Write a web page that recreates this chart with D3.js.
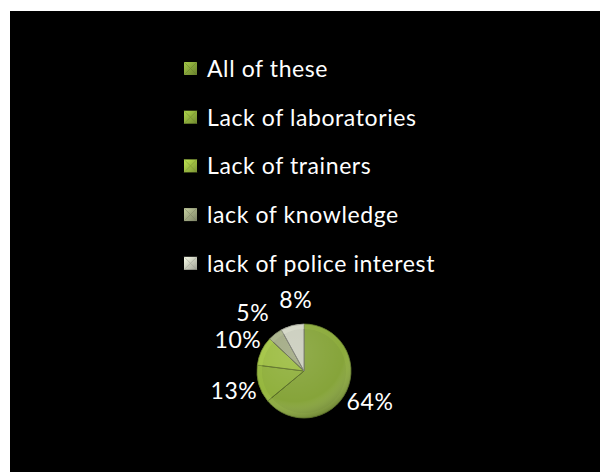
<!DOCTYPE html>
<html>
<head>
<meta charset="utf-8">
<script src="https://cdn.jsdelivr.net/npm/d3@7"></script>
<style>
  body { margin: 0; background: #fff; }
  text { font-family: Lato, "Open Sans", sans-serif; letter-spacing: 0.6px; }
</style>
</head>
<body>
<div id="chart"></div>
<script>
// chart data
var categories = ["All of these", "Lack of laboratories", "Lack of trainers", "lack of knowledge", "lack of police interest"];
var values = [64, 13, 10, 5, 8];
var colors = ["#86a43a", "#90b03d", "#9dbd43", "#a2aa84", "#cbcebe"];

var width = 600, height = 472;

var svg = d3.select("#chart")
    .append("svg")
    .attr("width", width)
    .attr("height", height);

// black slide background
svg.append("rect")
    .attr("x", 10)
    .attr("y", 11)
    .attr("width", width - 10)
    .attr("height", height - 11)
    .attr("fill", "#000");

var defs = svg.append("defs");

// bevel gradients for legend markers
colors.forEach(function(c, i) {
    var g = defs.append("linearGradient")
        .attr("id", "bev" + i)
        .attr("x1", 0).attr("y1", 0).attr("x2", 1).attr("y2", 1);
    g.append("stop").attr("offset", "0%").attr("stop-color", d3.color(c).brighter(0.6));
    g.append("stop").attr("offset", "50%").attr("stop-color", c);
    g.append("stop").attr("offset", "100%").attr("stop-color", d3.color(c).darker(0.7));
});

// legend
var legend = svg.append("g").attr("transform", "translate(184,62)");
var rowH = 48.7;

var rows = legend.selectAll("g.row")
    .data(categories)
    .enter().append("g")
    .attr("class", "row")
    .attr("transform", function(d, i) { return "translate(0," + (i * rowH) + ")"; });

rows.append("rect")
    .attr("width", 13)
    .attr("height", 13)
    .attr("fill", function(d, i) { return "url(#bev" + i + ")"; });

// little x facets on the markers
rows.append("path")
    .attr("d", "M0,0L13,13M13,0L0,13")
    .attr("stroke", function(d, i) { return d3.color(colors[i]).darker(0.8); })
    .attr("stroke-width", 0.8)
    .attr("opacity", 0.6);

rows.append("text")
    .attr("x", 23)
    .attr("y", 15)
    .attr("fill", "#fff")
    .style("font-size", "23px")
    .text(function(d) { return d; });

// pie
var r = 47;
var pieG = svg.append("g").attr("transform", "translate(304,371)");

var pie = d3.pie().sort(null).value(function(d) { return d; });
var arcs = pie(values);

var arc = d3.arc().innerRadius(0).outerRadius(r);
var rimArc = d3.arc().innerRadius(r - 5).outerRadius(r);
var labelArc = d3.arc().innerRadius(73).outerRadius(73);

var radial = defs.append("radialGradient")
    .attr("id", "shade")
    .attr("cx", "40%").attr("cy", "30%").attr("r", "75%");
radial.append("stop").attr("offset", "0%").attr("stop-color", "#fff").attr("stop-opacity", 0.1);
radial.append("stop").attr("offset", "70%").attr("stop-color", "#fff").attr("stop-opacity", 0);
radial.append("stop").attr("offset", "100%").attr("stop-color", "#000").attr("stop-opacity", 0.3);

pieG.selectAll("path.slice")
    .data(arcs)
    .enter().append("path")
    .attr("class", "slice")
    .attr("d", arc)
    .attr("fill", function(d, i) { return colors[i]; })
    .attr("stroke", function(d, i) { return d3.color(colors[i]).darker(1.4); })
    .attr("stroke-width", 1);

// rim bevel
pieG.selectAll("path.rim")
    .data(arcs)
    .enter().append("path")
    .attr("class", "rim")
    .attr("d", rimArc)
    .attr("fill", function(d, i) { return d3.color(colors[i]).brighter(0.3); })
    .attr("opacity", 0.4);

pieG.append("circle")
    .attr("r", r)
    .attr("fill", "url(#shade)");

// percentage labels
var labels = pieG.selectAll("text.pct")
    .data(arcs)
    .enter().append("text")
    .attr("class", "pct")
    .attr("text-anchor", "middle")
    .attr("dy", "0.35em")
    .attr("fill", "#fff")
    .style("font-size", "23px")
    .text(function(d) { return d.data + "%"; })
    .each(function(d) {
        var c = labelArc.centroid(d);
        d.lx = c[0];
        d.ly = c[1];
        d.w = this.getComputedTextLength();
    });

// push apart neighbouring labels whose boxes overlap
for (var i = arcs.length - 1; i > 0; i--) {
    var a = arcs[i], b = arcs[i - 1];
    var need = (a.w + b.w) / 2 + 10;
    var gap = Math.abs(a.lx - b.lx);
    if (Math.abs(a.ly - b.ly) < 20 && gap < need) {
        var dir = a.lx >= b.lx ? 1 : -1;
        a.lx += dir * (need - gap) * 0.6;
        b.lx -= dir * (need - gap) * 0.4;
    }
}

labels.attr("transform", function(d) { return "translate(" + d.lx + "," + d.ly + ")"; });
</script>
</body>
</html>
